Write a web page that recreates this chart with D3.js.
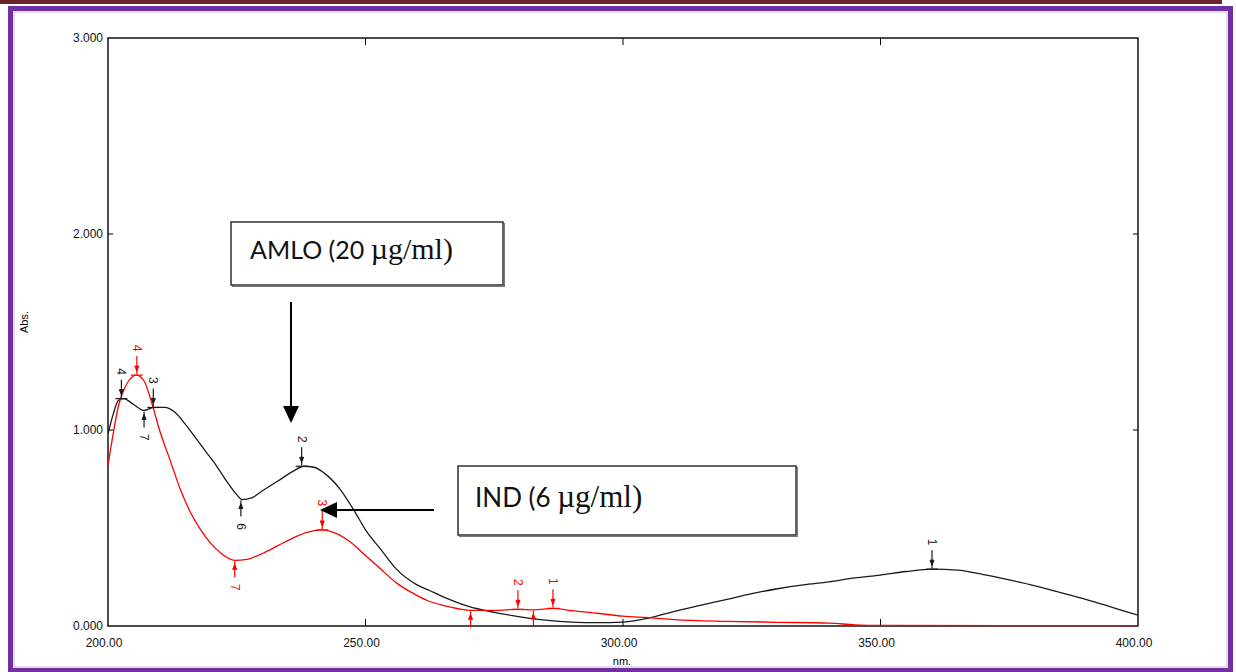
<!DOCTYPE html>
<html><head><meta charset="utf-8">
<script src="https://cdn.jsdelivr.net/npm/d3@7"></script>
<style>html,body{margin:0;padding:0;background:#fff;overflow:hidden}</style>
</head><body>
<svg id="c" width="1236" height="672"></svg>
<script>
// ---- data ----
const xTickValues = [200, 250, 300, 350, 400];
const yTickValues = [0, 1, 2, 3];
const xLabel = "nm.";
const yLabel = "Abs.";

const amloNm  = [200,201,202,203,205,207,209,211,213,215,217,219,221,223,225,226,228,230,233,236,238,240,242,245,248,250,253,256,260,262.5,265,270,275,280,285,290,295,300,305,310,315,320,325,330,335,340,345,350,355,360,365,370,375,380,385,390,395,400];
const amloAbs = [0.98,1.08,1.15,1.16,1.13,1.10,1.115,1.115,1.09,1.03,0.96,0.89,0.82,0.74,0.67,0.645,0.655,0.69,0.74,0.79,0.815,0.81,0.78,0.70,0.58,0.49,0.39,0.29,0.21,0.18,0.15,0.10,0.07,0.047,0.03,0.02,0.017,0.02,0.04,0.075,0.105,0.135,0.165,0.19,0.21,0.225,0.245,0.26,0.278,0.29,0.285,0.262,0.235,0.205,0.17,0.135,0.095,0.055];

const indNm  = [200,201,202,203,204,205.5,207,208.7,210,212,214,216,218,220,222,224.6,227,230,233,236,239,241.6,244,247,250,253,256,259,262,265,268,270.4,275,279.6,282.6,286.4,290,295,300,305,310,320,330,340,345,350,400];
const indAbs = [0.82,0.98,1.12,1.2,1.25,1.28,1.25,1.12,1.0,0.85,0.70,0.58,0.49,0.42,0.37,0.335,0.34,0.37,0.41,0.45,0.48,0.49,0.475,0.43,0.36,0.29,0.22,0.17,0.13,0.105,0.088,0.08,0.08,0.085,0.082,0.09,0.078,0.065,0.05,0.043,0.033,0.024,0.019,0.015,0.006,0.003,0.002];

const amloPeaks = [
  {nm:202.6, v:1.16, label:"4", type:"peak"},
  {nm:208.8, v:1.115, label:"3", type:"peak"},
  {nm:207.0, v:1.10, label:"7", type:"trough"},
  {nm:225.8, v:0.645, label:"6", type:"trough"},
  {nm:237.6, v:0.815, label:"2", type:"peak"},
  {nm:360.0, v:0.29, label:"1", type:"peak"}
];
const indPeaks = [
  {nm:205.6, v:1.28, label:"4", type:"peak"},
  {nm:224.6, v:0.335, label:"7", type:"trough"},
  {nm:241.6, v:0.49, label:"3", type:"peak"},
  {nm:279.6, v:0.085, label:"2", type:"peak"},
  {nm:286.4, v:0.09, label:"1", type:"peak"},
  {nm:270.4, v:0.08, label:"", type:"trough"},
  {nm:282.6, v:0.082, label:"", type:"trough"}
];

const annoAmlo = {sans:"AMLO (20 ", serif:"\u00b5g/ml)"};
const annoInd  = {sans:"IND (6 ", serif:"\u00b5g/ml)"};

// ---- drawing ----
const svg = d3.select("#c");

// page decoration
svg.append("rect").attr("x",0).attr("y",0).attr("width",1222).attr("height",4).attr("fill","#6b2328");
svg.append("rect").attr("x",10.5).attr("y",8.5).attr("width",1220).attr("height",662)
  .attr("fill","none").attr("stroke","#7030a0").attr("stroke-width",5);
svg.append("rect").attr("x",14).attr("y",12).attr("width",1213).attr("height",655)
  .attr("fill","none").attr("stroke","#c9b3dd").attr("stroke-width",1);

const x = d3.scaleLinear().domain([200,400]).range([108,1138]);
const y = d3.scaleLinear().domain([0,3]).range([626,38]);

const font = "'Liberation Sans', Arial, sans-serif";

// ticks
const tk = svg.append("g").attr("stroke","#000").attr("stroke-width",1);
xTickValues.slice(1,-1).forEach(t=>{
  tk.append("line").attr("x1",x(t)).attr("x2",x(t)).attr("y1",y(0)).attr("y2",y(0)-7);
  tk.append("line").attr("x1",x(t)).attr("x2",x(t)).attr("y1",y(3)).attr("y2",y(3)+7);
});
yTickValues.slice(1,-1).forEach(t=>{
  tk.append("line").attr("x1",x(200)).attr("x2",x(200)+5).attr("y1",y(t)).attr("y2",y(t));
  tk.append("line").attr("x1",x(400)).attr("x2",x(400)-5).attr("y1",y(t)).attr("y2",y(t));
});

// tick labels
svg.append("g").selectAll("text").data(xTickValues).join("text")
  .attr("x",d=>x(d)-4).attr("y",647).attr("text-anchor","middle")
  .attr("font-family",font).attr("font-size",12).attr("fill","#111")
  .text(d=>d3.format(".2f")(d));
svg.append("g").selectAll("text").data(yTickValues).join("text")
  .attr("x",103).attr("y",d=>y(d)+4).attr("text-anchor","end")
  .attr("font-family",font).attr("font-size",12).attr("fill","#111")
  .text(d=>d3.format(".3f")(d));
svg.append("text").attr("x",622).attr("y",665).attr("text-anchor","middle")
  .attr("font-family",font).attr("font-size",11).text(xLabel);
svg.append("text").attr("transform","translate(28,322) rotate(-90)").attr("text-anchor","middle")
  .attr("font-family",font).attr("font-size",11).text(yLabel);

// plot frame
svg.append("rect").attr("x",x(200)).attr("y",y(3)).attr("width",x(400)-x(200)).attr("height",y(0)-y(3))
  .attr("fill","none").attr("stroke","#000").attr("stroke-width",1.4);

svg.append("clipPath").attr("id","clip").append("rect")
  .attr("x",x(200)).attr("y",y(3)).attr("width",x(400)-x(200)).attr("height",y(0)-y(3)+1);

const line = d3.line().x(d=>x(d[0])).y(d=>y(d[1])).curve(d3.curveMonotoneX);
const plot = svg.append("g").attr("clip-path","url(#clip)");
plot.append("path").datum(d3.zip(amloNm, amloAbs)).attr("d",line)
  .attr("fill","none").attr("stroke","#1a1a1a").attr("stroke-width",1.3);
plot.append("path").datum(d3.zip(indNm, indAbs)).attr("d",line)
  .attr("fill","none").attr("stroke","#ff0000").attr("stroke-width",1.3);

// peak markers
function drawMarkers(list, color){
  const g = svg.append("g");
  list.forEach(m=>{
    const px = x(m.nm), py = y(m.v);
    if(m.type==="peak"){
      g.append("line").attr("x1",px).attr("x2",px).attr("y1",py-19).attr("y2",py-1)
        .attr("stroke",color).attr("stroke-width",1.2);
      g.append("path").attr("d",`M${px-2},${py-9}L${px+2},${py-9}L${px},${py-4}Z`).attr("fill",color)
        .attr("stroke",color).attr("stroke-width",1);
      g.append("line").attr("x1",px-6).attr("x2",px+6).attr("y1",py).attr("y2",py)
        .attr("stroke",color).attr("stroke-width",1.2);
      if(m.label) g.append("text").attr("transform",`translate(${px-4},${py-27}) rotate(90)`)
        .attr("text-anchor","middle").attr("font-family",font).attr("font-size",12)
        .attr("fill",color).text(m.label);
    } else {
      g.append("line").attr("x1",px).attr("x2",px).attr("y1",py+1).attr("y2",py+17)
        .attr("stroke",color).attr("stroke-width",1.2);
      g.append("path").attr("d",`M${px-2},${py+9}L${px+2},${py+9}L${px},${py+4}Z`).attr("fill",color)
        .attr("stroke",color).attr("stroke-width",1);
      if(m.label) g.append("text").attr("transform",`translate(${px-4},${py+27}) rotate(90)`)
        .attr("text-anchor","middle").attr("font-family",font).attr("font-size",12)
        .attr("fill",color).text(m.label);
    }
  });
}
drawMarkers(amloPeaks, "#1a1a1a");
drawMarkers(indPeaks, "#ff0000");

// annotation boxes
function annoBox(bx,by,bw,bh,tx,ty,t,s1,s2){
  svg.append("rect").attr("x",bx+1.5).attr("y",by+1.5).attr("width",bw).attr("height",bh)
    .attr("fill","none").attr("stroke","#777").attr("stroke-width",1);
  svg.append("rect").attr("x",bx).attr("y",by).attr("width",bw).attr("height",bh)
    .attr("fill","#fff").attr("stroke","#222").attr("stroke-width",1.4);
  const te = svg.append("text").attr("x",tx).attr("y",ty).attr("fill","#111");
  te.append("tspan").attr("font-family","Lato, 'Open Sans', sans-serif").attr("font-size",s1).text(t.sans);
  te.append("tspan").attr("font-family","'Liberation Serif', 'Times New Roman', serif").attr("font-size",s2).text(t.serif);
}
annoBox(231,222,272,63,250,259,annoAmlo,25,30);
annoBox(458,466,338,69,475,507,annoInd,26,31);

// arrows
svg.append("line").attr("x1",291).attr("x2",291).attr("y1",302).attr("y2",408).attr("stroke","#000").attr("stroke-width",2);
svg.append("path").attr("d","M283,406L299,406L291,423Z").attr("fill","#000");
svg.append("line").attr("x1",434).attr("x2",334).attr("y1",510).attr("y2",510).attr("stroke","#000").attr("stroke-width",2);
svg.append("path").attr("d","M337,502L337,518L320,510Z").attr("fill","#000");
</script>
</body></html>
